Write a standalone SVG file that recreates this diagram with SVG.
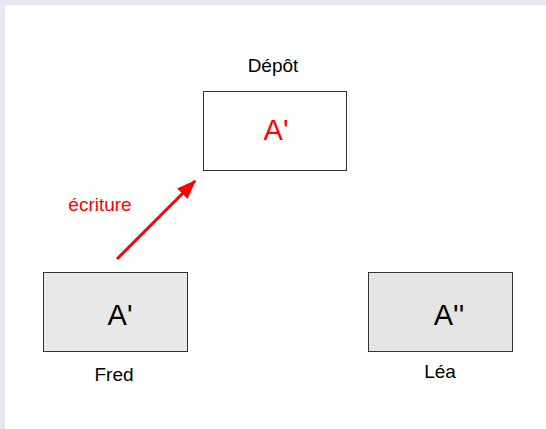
<svg xmlns="http://www.w3.org/2000/svg" width="546" height="429" viewBox="0 0 546 429">
<defs>
<style>
.box{stroke:#333;stroke-width:1}
.lbl{font-family:"Liberation Sans",Arial,sans-serif;font-size:19px;fill:#000;text-anchor:middle}
.big{font-family:"Liberation Sans",Arial,sans-serif;font-size:29px;text-anchor:middle}
</style>
<marker id="ah" viewBox="0 0 13 10" refX="12" refY="5" markerWidth="6.5" markerHeight="5" orient="auto" markerUnits="strokeWidth">
<path d="M0,0 L13,5 L0,10 z" fill="#ff0000"/>
</marker>
</defs>
<rect x="0" y="0" width="546" height="429" fill="#e8e8f4"/>
<rect x="5" y="5" width="541" height="424" fill="#ffffff"/>
<g id="depot">
<text class="lbl" x="273" y="72">Dépôt</text>
<rect class="box" x="203.5" y="91.5" width="143" height="79" fill="#ffffff"/>
<text class="big" x="276" y="140" fill="#ff0000">A'</text>
</g>
<g id="fred">
<rect class="box" x="43.5" y="272.5" width="144" height="79" fill="#e8e8e8"/>
<text class="big" x="120" y="325" fill="#000">A'</text>
<text class="lbl" x="114" y="381">Fred</text>
</g>
<g id="lea">
<rect class="box" x="368.5" y="272.5" width="144" height="79" fill="#e4e4e4"/>
<text class="big" x="449" y="325" fill="#000">A''</text>
<text class="lbl" x="440" y="378">Léa</text>
</g>
<g id="connectors">
<line x1="117" y1="259" x2="195" y2="181" stroke="#ff0000" stroke-width="3" marker-end="url(#ah)"/>
<text class="lbl" x="100" y="211" style="fill:#ff0000">écriture</text>
</g>
</svg>
